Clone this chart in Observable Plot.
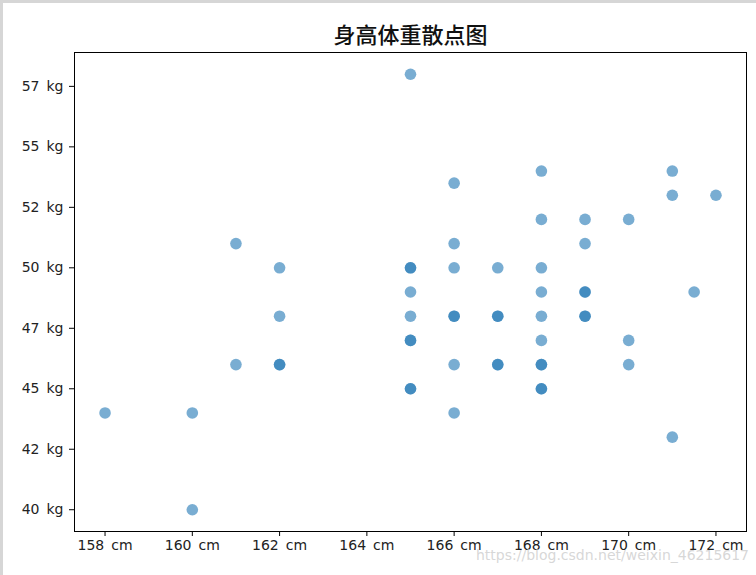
<!DOCTYPE html>
<html>
<head>
<meta charset="utf-8">
<script src="https://cdn.jsdelivr.net/npm/d3@7"></script>
<script src="https://cdn.jsdelivr.net/npm/@observablehq/plot@0.6"></script>
<style>
  html, body { margin: 0; padding: 0; background: #fff; }
  #wrap { position: relative; width: 756px; height: 575px; overflow: hidden; }
  #bl { position: absolute; left: 0; top: 0; width: 3px; height: 575px; background: #d6d6d6; }
  #bt { position: absolute; left: 0; top: 0; width: 756px; height: 3px; background: #d6d6d6; }
  #wm { position: absolute; left: 476px; top: 547px; font: 14px "DejaVu Sans", sans-serif; color: rgba(205,205,205,0.8); white-space: nowrap; }
</style>
</head>
<body>
<div id="wrap"><div id="chart"></div><div id="bl"></div><div id="bt"></div><div id="wm">https://blog.csdn.net/weixin_46215617</div></div>
<script>
const title = "身高体重散点图";
const heights = [158,160,160,161,161,162,162,162,162,
  165,165,165,165,165,165,165,165,165,
  166,166,166,166,166,166,166,
  167,167,167,167,167,
  168,168,168,168,168,168,168,168,168,168,
  169,169,169,169,169,169,
  170,170,170,
  171,171,171,171.5,172];
const weights = [44,44,40,51,46,50,48,46,46,
  58,50,50,49,48,47,47,45,45,
  53.5,51,50,48,48,46,44,
  50,48,48,46,46,
  54,52,50,49,48,47,46,46,45,45,
  52,51,49,49,48,48,
  52,47,46,
  54,53,43,49,53];
const xTicks = [158,160,162,164,166,168,170,172];
const yTicks = [40,42.5,45,47.5,50,52.5,55,57.5];

const data = heights.map((h, i) => ({h, w: weights[i]}));

const chart = Plot.plot({
  width: 756,
  height: 575,
  marginLeft: 74,
  marginRight: 10,
  marginTop: 52,
  marginBottom: 44,
  style: {fontFamily: "'DejaVu Sans', sans-serif", fontSize: "14px", color: "#222", background: "transparent"},
  x: {domain: [157.3, 172.7]},
  y: {domain: [39.1, 58.9]},
  marks: [
    Plot.frame({stroke: "#000", strokeWidth: 1}),
    Plot.axisX({ticks: xTicks, tickFormat: d => `${d}\u2002cm`, tickSize: 5, tickPadding: 4, stroke: "#000", label: null}),
    Plot.axisY({ticks: yTicks, tickFormat: d => `${Math.floor(d)}\u2002kg`, tickSize: 5, tickPadding: 6, stroke: "#000", label: null}),
    Plot.dot(data, {x: "h", y: "w", r: 5.8, fill: "#1f77b4", fillOpacity: 0.6, stroke: null}),
    Plot.text([title], {text: d => d, frameAnchor: "top", lineAnchor: "middle", dy: -17, fontSize: 22, fontFamily: "'Noto Sans CJK SC'", fontWeight: 500, fill: "#111"})
  ]
});
document.getElementById("chart").appendChild(chart);
</script>
</body>
</html>
